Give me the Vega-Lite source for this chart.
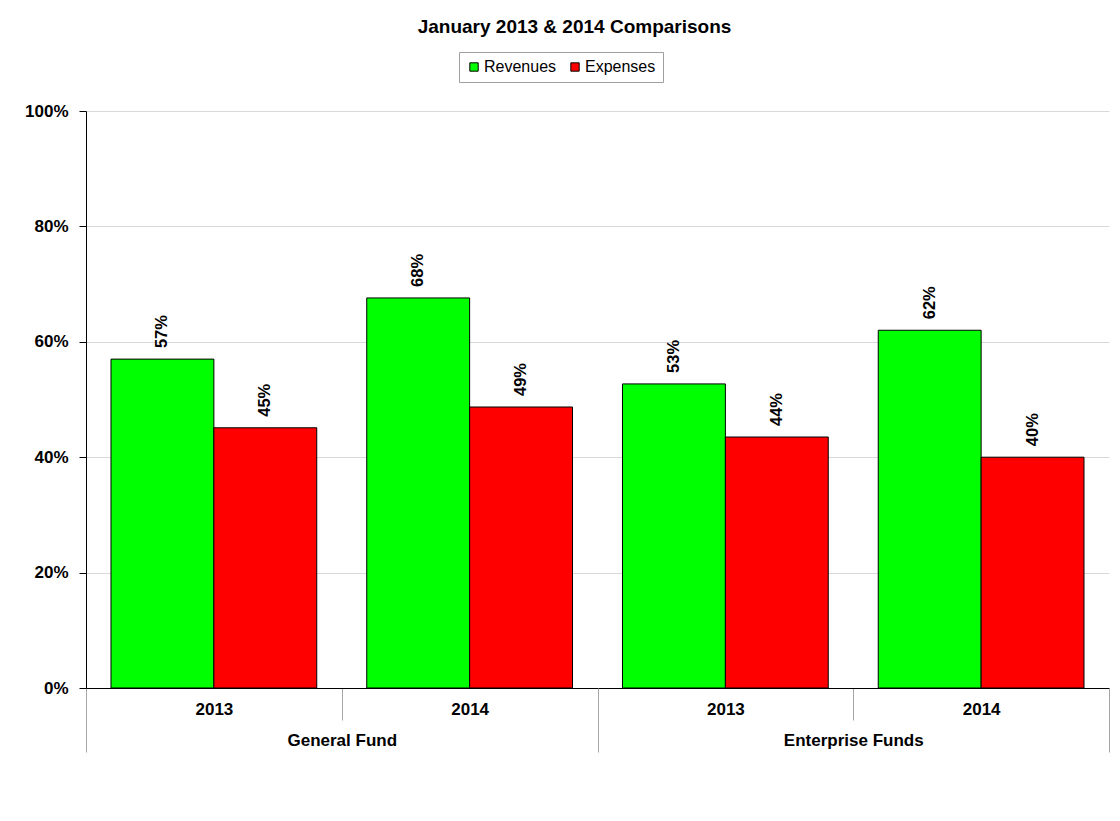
{
  "$schema": "https://vega.github.io/schema/vega-lite/v6.json",
  "autosize": "none",
  "width": 1023,
  "height": 577,
  "padding": {"left": 86, "top": 111, "right": 11, "bottom": 133},
  "background": "white",
  "config": {
    "font": "Liberation Sans",
    "view": {"stroke": null}
  },
  "title": {
    "text": "January 2013 & 2014 Comparisons",
    "fontSize": 19,
    "fontWeight": "bold",
    "font": "Liberation Sans",
    "color": "black",
    "anchor": "middle",
    "frame": "group",
    "dx": -23,
    "dy": -11
  },
  "data": {
    "values": [
      {"group": "General Fund 2013", "fund": "General Fund", "series": "Revenues", "value": 0.570},
      {"group": "General Fund 2013", "fund": "General Fund", "series": "Expenses", "value": 0.451},
      {"group": "General Fund 2014", "fund": "General Fund", "series": "Revenues", "value": 0.676},
      {"group": "General Fund 2014", "fund": "General Fund", "series": "Expenses", "value": 0.487},
      {"group": "Enterprise Funds 2013", "fund": "Enterprise Funds", "series": "Revenues", "value": 0.527},
      {"group": "Enterprise Funds 2013", "fund": "Enterprise Funds", "series": "Expenses", "value": 0.435},
      {"group": "Enterprise Funds 2014", "fund": "Enterprise Funds", "series": "Revenues", "value": 0.620},
      {"group": "Enterprise Funds 2014", "fund": "Enterprise Funds", "series": "Expenses", "value": 0.400}
    ]
  },
  "layer": [
    {
      "encoding": {
        "x": {
          "field": "group", "type": "nominal", "sort": null,
          "scale": {"paddingInner": 0, "paddingOuter": 0},
          "axis": {
            "title": null, "labelAngle": 0, "orient": "bottom",
            "labelExpr": "slice(datum.label, -4)",
            "labelFont": "Liberation Sans", "labelFontSize": 17, "labelFontWeight": "bold", "labelColor": "black",
            "tickBand": "extent", "tickSize": 32, "tickColor": "#a6a6a6", "tickWidth": 1,
            "labelPadding": -19, "domainColor": "black", "domainWidth": 1
          }
        },
        "xOffset": {
          "field": "series", "type": "nominal", "sort": ["Revenues", "Expenses"],
          "scale": {"paddingInner": 0, "paddingOuter": 0.243}
        },
        "y": {
          "field": "value", "type": "quantitative",
          "scale": {"domain": [0, 1], "nice": false},
          "axis": {
            "title": null, "format": ".0%", "values": [0, 0.2, 0.4, 0.6, 0.8, 1],
            "labelFont": "Liberation Sans", "labelFontSize": 17, "labelFontWeight": "bold", "labelColor": "black",
            "tickSize": 7, "tickColor": "black", "labelPadding": 11,
            "domainColor": "black", "gridColor": "#d9d9d9", "grid": true
          }
        }
      },
      "layer": [
        {
          "mark": {"type": "bar", "stroke": "black", "strokeWidth": 1},
          "encoding": {
            "color": {
              "field": "series", "type": "nominal", "sort": ["Revenues", "Expenses"],
              "scale": {"domain": ["Revenues", "Expenses"], "range": ["#00ff00", "#ff0000"]},
              "legend": {
                "title": null, "orient": "none", "direction": "horizontal",
                "legendX": 373, "legendY": -59,
                "symbolType": "square", "symbolSize": 70, "symbolStrokeColor": "black", "symbolStrokeWidth": 1,
                "symbolOpacity": 1,
                "labelFont": "Liberation Sans", "labelFontSize": 16, "labelColor": "black",
                "strokeColor": "#a0a0a0", "fillColor": "white", "padding": 7, "columnPadding": 10, "labelOffset": 2
              }
            }
          }
        },
        {
          "mark": {"type": "text", "angle": 270, "align": "left", "baseline": "middle", "dx": 11,
                   "font": "Liberation Sans", "fontSize": 16.5, "fontWeight": "bold", "color": "black"},
          "encoding": {
            "text": {"field": "value", "type": "quantitative", "format": ".0%"}
          }
        }
      ]
    },
    {
      "mark": {"type": "text", "text": ""},
      "encoding": {
        "x": {
          "field": "fund", "type": "nominal", "sort": null,
          "scale": {"paddingInner": 0, "paddingOuter": 0},
          "axis": {
            "title": null, "labelAngle": 0, "orient": "bottom",
            "labelFont": "Liberation Sans", "labelFontSize": 17, "labelFontWeight": "bold", "labelColor": "black",
            "tickBand": "extent", "tickSize": 64, "tickColor": "#a6a6a6", "tickWidth": 1,
            "labelPadding": -20, "domain": false
          }
        },
        "y": {"field": "value", "type": "quantitative"}
      }
    }
  ],
  "resolve": {"scale": {"x": "independent"}, "axis": {"x": "independent"}}
}
